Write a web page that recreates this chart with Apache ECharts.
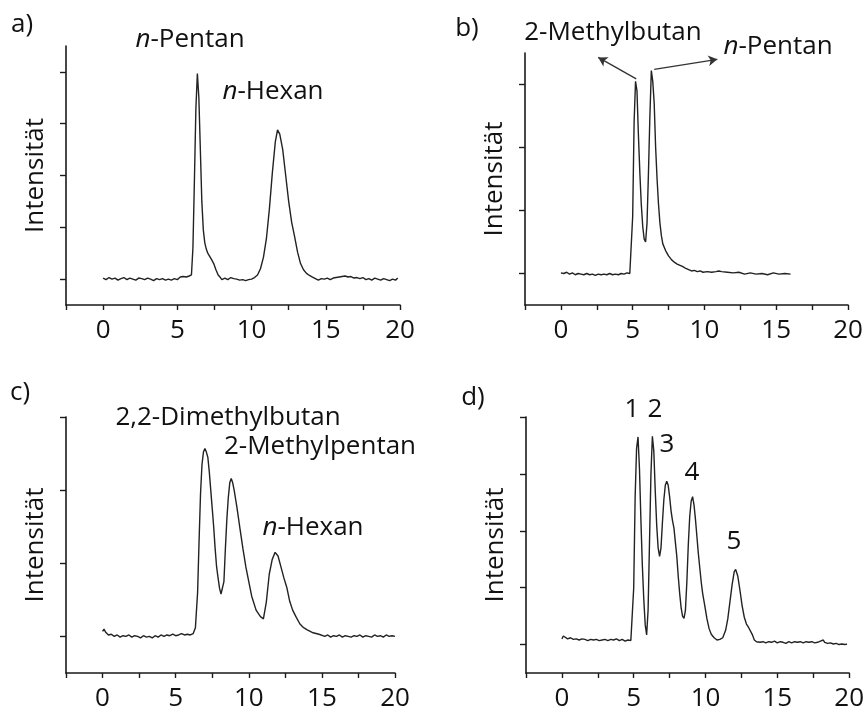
<!DOCTYPE html>
<html>
<head>
<meta charset="utf-8">
<script src="https://cdn.jsdelivr.net/npm/echarts@6/dist/echarts.min.js"></script>
<style>
  html, body { margin: 0; padding: 0; background: #fff; }
  #chart { width: 867px; height: 715px; }
</style>
</head>
<body>
<div id="chart"></div>
<script>
// retention time (min) and detector signal
var aTime = [0.0,0.2,0.4,0.6,0.8,1.0,1.2,1.4,1.6,1.8,2.0,2.2,2.4,2.6,2.8,3.0,3.2,3.4,3.6,3.8,4.0,4.2,4.4,4.6,4.8,5.0,5.2,5.4,5.6,5.8,5.95,
  6.05,6.15,6.25,6.35,6.45,6.55,6.65,6.75,6.85,6.95,7.05,7.15,7.3,7.45,7.6,7.75,7.9,8.0,8.2,8.4,8.6,8.8,9.0,9.2,9.4,9.6,9.8,10.0,10.2,
  10.4,10.6,10.8,11.0,11.2,11.4,11.6,11.75,11.9,12.1,12.3,12.5,12.7,12.9,13.1,13.3,13.5,13.7,13.9,14.1,14.3,14.5,14.7,14.9,15.1,15.3,
  15.5,15.7,15.9,16.1,16.3,16.5,16.7,16.9,17.1,17.3,17.5,17.7,17.9,18.1,18.3,18.5,18.7,18.9,19.1,19.3,19.5,19.7,19.85];
var aSignal = [0.02,-0.01,0.03,0.00,0.02,-0.02,0.01,0.03,-0.01,0.02,0.00,-0.02,0.02,0.01,-0.01,0.02,0.00,-0.03,0.01,-0.01,0.01,-0.02,0.00,-0.02,0.01,-0.01,0.04,0.05,0.04,0.06,0.08,
  0.6,1.9,3.3,3.97,3.5,2.5,1.5,0.95,0.7,0.58,0.5,0.47,0.38,0.3,0.18,0.08,0.03,-0.01,0.02,-0.01,0.03,0.01,0.00,-0.02,-0.01,-0.03,-0.01,0.00,0.03,
  0.08,0.2,0.42,0.78,1.35,2.05,2.65,2.88,2.8,2.5,2.0,1.5,1.1,0.82,0.52,0.3,0.18,0.11,0.07,0.04,0.01,-0.02,0.01,0.00,0.02,-0.01,
  0.02,0.03,0.04,0.05,0.06,0.04,0.05,0.02,0.03,0.01,0.03,-0.01,0.01,-0.02,0.02,0.00,-0.02,0.01,-0.01,-0.03,0.00,-0.02,0.02];

var bTime = [0.0,0.2,0.4,0.6,0.8,1.0,1.2,1.4,1.6,1.8,2.0,2.2,2.4,2.6,2.8,3.0,3.2,3.4,3.6,3.8,4.0,4.2,4.4,4.6,4.8,4.9,
  5.0,5.1,5.2,5.3,5.4,5.5,5.6,5.7,5.8,5.9,6.0,6.1,6.2,6.3,6.4,6.5,6.6,6.7,6.8,6.9,7.0,7.1,7.3,7.5,7.7,7.9,8.1,8.3,8.5,8.7,8.9,9.1,9.3,
  9.5,9.7,9.9,10.2,10.5,10.8,11.0,11.2,11.6,12.0,12.4,12.8,13.2,13.6,14.0,14.4,14.8,15.2,15.6,16.0];
var bSignal = [0.01,0.00,0.02,-0.01,0.01,-0.02,0.00,-0.01,-0.02,0.00,-0.02,-0.01,-0.03,-0.01,-0.02,-0.01,-0.02,0.00,-0.02,-0.01,-0.02,0.00,-0.01,0.01,0.00,0.02,
  0.9,2.4,3.05,2.9,2.2,1.6,1.1,0.75,0.55,0.5,0.8,1.6,2.5,3.22,3.05,2.7,2.0,1.5,1.1,0.8,0.6,0.47,0.36,0.28,0.22,0.18,0.15,0.13,0.11,0.08,0.06,0.04,0.05,
  0.03,0.04,0.02,0.03,0.02,0.03,0.04,0.03,0.02,0.01,0.02,-0.01,0.01,-0.01,0.00,-0.02,0.01,-0.01,0.00,-0.01];

var cTime = [0.0,0.1,0.2,0.4,0.6,0.8,1.0,1.2,1.4,1.6,1.8,2.0,2.2,2.4,2.6,2.8,3.0,3.2,3.4,3.6,3.8,4.0,4.2,4.4,4.6,4.8,5.0,5.2,5.4,5.6,5.8,6.0,6.2,
  6.35,6.5,6.6,6.7,6.8,6.9,7.0,7.1,7.2,7.3,7.4,7.5,7.6,7.7,7.8,7.9,8.0,8.1,8.2,8.3,8.4,8.5,8.6,8.7,8.8,8.9,9.0,9.2,9.4,9.6,9.8,10.0,
  10.2,10.5,10.8,11.0,11.2,11.4,11.6,11.8,12.0,12.2,12.4,12.6,12.8,13.0,13.25,13.5,13.75,14.0,14.4,14.8,15.2,15.4,15.6,15.8,16.0,
  16.2,16.4,16.6,16.8,17.0,17.2,17.4,17.6,17.8,18.0,18.2,18.4,18.6,18.8,19.0,19.2,19.4,19.6,19.8,20.0];
var cSignal = [0.07,0.1,0.06,0.02,0.03,0.00,0.02,-0.01,0.01,0.00,0.02,-0.01,0.01,0.00,-0.02,0.01,-0.01,0.00,-0.02,0.01,-0.01,0.02,0.00,0.02,0.01,0.03,0.01,0.02,0.04,0.02,0.03,0.02,0.04,
  0.12,0.6,1.3,1.95,2.35,2.52,2.57,2.52,2.45,2.25,2.0,1.75,1.5,1.2,0.95,0.8,0.66,0.58,0.57,0.75,1.2,1.6,1.9,2.1,2.16,2.1,2.0,1.75,1.47,1.2,0.95,0.75,
  0.55,0.36,0.27,0.24,0.47,0.85,1.05,1.15,1.1,0.95,0.8,0.67,0.48,0.36,0.26,0.17,0.12,0.09,0.05,0.03,0.00,0.02,-0.01,0.01,0.00,
  0.02,-0.01,0.01,0.00,-0.01,0.01,0.00,0.02,-0.01,0.01,0.00,-0.01,0.02,0.00,0.01,-0.01,0.02,0.00,0.01,0.00];

var dTime = [0.0,0.1,0.2,0.4,0.6,0.8,1.0,1.2,1.4,1.6,1.8,2.0,2.2,2.4,2.6,2.8,3.0,3.2,3.4,3.6,3.8,4.0,4.2,4.4,4.6,4.8,4.9,
  5.0,5.1,5.2,5.3,5.4,5.5,5.6,5.7,5.8,5.9,6.0,6.1,6.2,6.3,6.4,6.5,6.6,6.7,6.8,6.9,7.0,7.1,7.2,7.3,7.4,7.5,7.6,7.7,7.8,7.9,8.0,8.1,8.2,
  8.3,8.4,8.5,8.6,8.7,8.8,8.9,9.0,9.1,9.2,9.3,9.4,9.5,9.6,9.7,9.8,9.95,10.1,10.25,10.4,10.6,10.8,11.0,11.2,11.4,11.55,11.7,11.85,12.0,
  12.1,12.25,12.4,12.55,12.7,12.85,13.0,13.1,13.25,13.4,13.55,13.8,14.0,14.2,14.4,14.6,14.8,15.0,15.2,15.4,15.6,15.8,16.0,16.2,16.4,
  16.6,16.8,17.0,17.2,17.4,17.6,17.8,18.0,18.2,18.3,18.5,18.7,18.9,19.1,19.3,19.5,19.7,19.85];
var dSignal = [0.1,0.15,0.12,0.1,0.12,0.09,0.1,0.08,0.1,0.09,0.07,0.09,0.08,0.09,0.07,0.08,0.09,0.07,0.09,0.08,0.1,0.07,0.09,0.06,0.08,0.07,0.09,
  1.0,2.6,3.45,3.65,3.1,2.2,1.4,0.8,0.35,0.17,0.6,1.8,3.0,3.66,3.4,2.7,2.1,1.7,1.55,1.7,2.15,2.55,2.8,2.87,2.8,2.6,2.35,2.18,2.05,1.8,1.55,1.2,0.9,
  0.65,0.5,0.46,0.6,1.1,1.75,2.25,2.52,2.6,2.45,2.2,1.9,1.6,1.35,1.1,0.9,0.68,0.45,0.28,0.18,0.12,0.08,0.09,0.12,0.25,0.45,0.75,1.05,1.28,
  1.32,1.2,0.95,0.68,0.48,0.36,0.3,0.28,0.18,0.08,0.05,0.04,0.05,0.03,0.05,0.04,0.06,0.03,0.05,0.04,0.02,0.05,0.03,0.05,0.04,
  0.05,0.03,0.05,0.04,0.05,0.03,0.04,0.06,0.08,0.04,0.02,0.03,0.01,0.02,0.00,0.01,0.00,0.01];

var xTickLabels = [0, 5, 10, 15, 20];
var yTicksA = [0, 1, 2, 3, 4];
var yTicksB = [0, 1, 2, 3];
var yTicksC = [0, 1, 2, 3];
var yTicksD = [0, 1, 2, 3, 4];

var FONT = '"Open Sans", "Noto Sans", sans-serif';
var INK = '#1a1a1a';
var FS = 26;

function pairs(t, s) {
  return t.map(function (x, i) { return [x, s[i]]; });
}

function xAxisFor(idx) {
  return {
    type: 'value', gridIndex: idx, min: -2.5, max: 20, interval: 2.5,
    axisLine: { show: true, onZero: false, lineStyle: { color: INK, width: 1.6 } },
    axisTick: { show: true, length: 5, lineStyle: { color: INK, width: 1.4 } },
    axisLabel: {
      color: '#111', fontSize: FS, fontFamily: FONT, margin: 13,
      formatter: function (v) { return xTickLabels.indexOf(v) >= 0 ? String(v) : ''; }
    },
    splitLine: { show: false }
  };
}

function yAxisFor(idx, max, ticks) {
  return {
    type: 'value', gridIndex: idx, min: -0.5, max: max, interval: 0.5,
    axisLine: { show: true, onZero: false, lineStyle: { color: INK, width: 1.6 } },
    axisTick: { show: true, length: 6, customValues: ticks, lineStyle: { color: INK, width: 1.4 } },
    axisLabel: { show: false },
    splitLine: { show: false },
    name: 'Intensität', nameLocation: 'middle', nameGap: 17,
    nameTextStyle: { color: '#111', fontSize: FS, fontFamily: FONT }
  };
}

function trace(idx, t, s) {
  return {
    type: 'line', xAxisIndex: idx, yAxisIndex: idx,
    data: pairs(t, s), showSymbol: false, symbol: 'none',
    lineStyle: { color: '#222', width: 1.4 }, silent: true
  };
}

function label(text, x, y) {
  return {
    type: 'text', x: x, y: y, silent: true,
    style: {
      text: text, fill: '#111', fontSize: FS, fontFamily: FONT,
      align: 'center', verticalAlign: 'middle',
      rich: { i: { fontStyle: 'italic', fontSize: FS, fontFamily: FONT, fill: '#111' } }
    }
  };
}

var chart = echarts.init(document.getElementById('chart'));

var seriesB = trace(1, bTime, bSignal);
// arrows from the two peaks out to their labels
seriesB.markLine = {
  silent: true, symbol: ['none', 'arrow'], symbolSize: [8, 9],
  label: { show: false },
  lineStyle: { color: '#333', width: 1.3, type: 'solid' },
  data: [
    [{ coord: [5.25, 3.09] }, { coord: [2.6, 3.43] }],
    [{ coord: [6.5, 3.24] }, { coord: [10.9, 3.40] }]
  ]
};

var option = {
  animation: false,
  backgroundColor: '#fff',
  grid: [
    { left: 66, top: 46, width: 334, height: 259 },
    { left: 525, top: 53, width: 323, height: 252 },
    { left: 66, top: 417, width: 329, height: 256 },
    { left: 526, top: 417, width: 326, height: 256 }
  ],
  xAxis: [xAxisFor(0), xAxisFor(1), xAxisFor(2), xAxisFor(3)],
  yAxis: [
    yAxisFor(0, 4.5, yTicksA),
    yAxisFor(1, 3.5, yTicksB),
    yAxisFor(2, 3, yTicksC),
    yAxisFor(3, 4, yTicksD)
  ],
  series: [
    trace(0, aTime, aSignal),
    seriesB,
    trace(2, cTime, cSignal),
    trace(3, dTime, dSignal)
  ],
  graphic: [
    label('a)', 22, 25),
    label('b)', 467, 29),
    label('c)', 20, 393),
    label('d)', 473, 398),
    label('{i|n}-Pentan', 190, 40),
    label('{i|n}-Hexan', 273, 92),
    label('2-Methylbutan', 613, 33),
    label('{i|n}-Pentan', 778, 47),
    label('2,2-Dimethylbutan', 228, 418),
    label('2-Methylpentan', 320, 447),
    label('{i|n}-Hexan', 313, 528),
    label('1', 632, 410),
    label('2', 655, 410),
    label('3', 667, 445),
    label('4', 692, 473),
    label('5', 734, 542)
  ]
};

chart.setOption(option);
</script>
</body>
</html>
